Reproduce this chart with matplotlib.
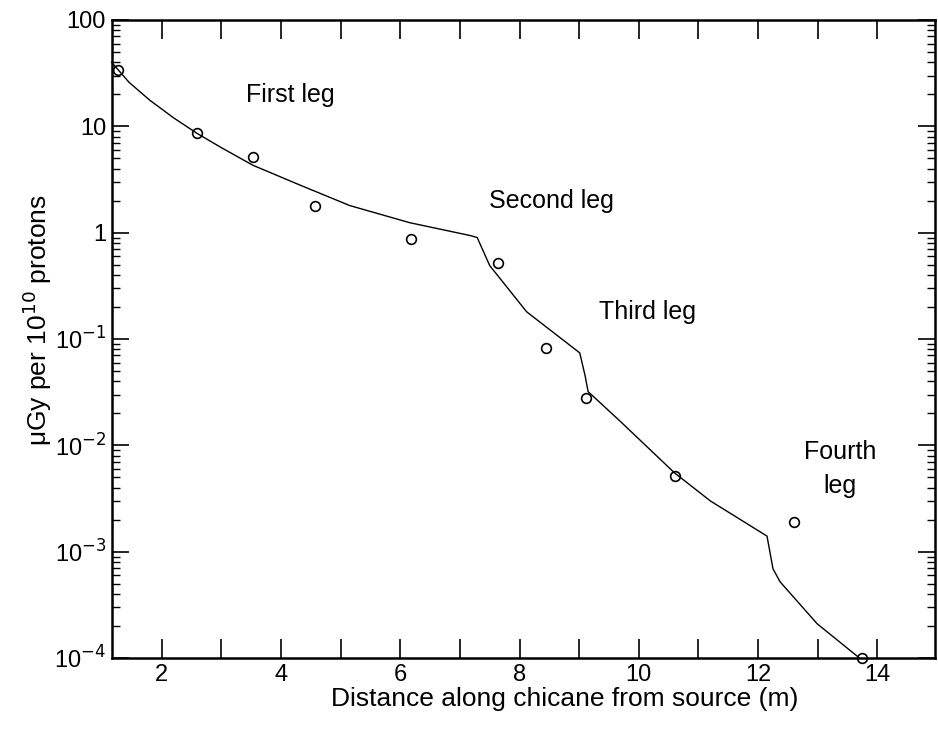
import numpy as np
import matplotlib.pyplot as plt
from matplotlib.ticker import FixedLocator, FixedFormatter, LogLocator, NullFormatter

plt.rcParams['font.family'] = ['Liberation Sans', 'DejaVu Sans']

# measured points (open circles)
meas_x = [1.26, 2.59, 3.53, 4.57, 6.18, 7.64, 8.44, 9.11, 10.6, 12.6, 13.74]
meas_y = [34, 8.6, 5.1, 1.8, 0.88, 0.52, 0.082, 0.028, 0.0051, 0.0019, 0.0001]

# calculated curve
curve_x = [1.16, 1.45, 1.8, 2.2, 2.59, 3.0, 3.53, 4.32, 5.15, 6.16, 7.17, 7.29, 7.5, 8.12, 9.01,
           9.1, 9.15, 9.68, 10.6, 11.2, 12.15, 12.25, 12.37, 12.99, 13.7]
curve_y = [40, 26, 17.6, 12, 8.6, 6.3, 4.3, 2.8, 1.8, 1.24, 0.94, 0.90, 0.49, 0.18, 0.074,
           0.045, 0.032, 0.017, 0.0055, 0.0030, 0.0014, 0.00069, 0.00052, 0.00021, 0.0001]

ytick_vals = [1e-4, 1e-3, 1e-2, 1e-1, 1, 10, 100]
ytick_labels = ['10$^{-4}$', '10$^{-3}$', '10$^{-2}$', '10$^{-1}$', '1', '10', '100']
xtick_major = [2, 4, 6, 8, 10, 12, 14]
xtick_minor = [3, 5, 7, 9, 11, 13]

legs = ['First leg', 'Second leg', 'Third leg', 'Fourth\nleg']
leg_x = [4.15, 8.54, 10.15, 13.38]
leg_y = [19.6, 2.0, 0.18, 0.006]

fig = plt.figure(figsize=(9.38, 7.29), dpi=100)
ax = fig.add_axes([0.119, 0.0974, 0.878, 0.8752])

ax.plot(curve_x, curve_y, color='black', lw=1.0, clip_on=False)
ax.plot(meas_x, meas_y, 'o', ms=7, mfc='none', mec='black', mew=1.2, clip_on=False)

for t, lx, ly in zip(legs, leg_x, leg_y):
    ax.text(lx, ly, t, ha='center', va='center', fontsize=18, linespacing=1.5)

ax.set_yscale('log')
ax.set_xlim(1.16, 14.97)
ax.set_ylim(1e-4, 100)

ax.yaxis.set_major_locator(FixedLocator(ytick_vals))
ax.yaxis.set_major_formatter(FixedFormatter(ytick_labels))
ax.yaxis.set_minor_locator(LogLocator(base=10, subs=np.arange(2, 10)))
ax.yaxis.set_minor_formatter(NullFormatter())

ax.xaxis.set_major_locator(FixedLocator(xtick_major))
ax.xaxis.set_minor_locator(FixedLocator(xtick_minor))

ax.tick_params(which='both', direction='in', top=True, right=True, labelsize=17)
ax.tick_params(which='major', axis='y', length=12, width=1.2, pad=4)
ax.tick_params(which='minor', axis='y', length=6, width=1)
ax.tick_params(which='both', axis='x', length=14, width=1.2, pad=4)

for s in ax.spines.values():
    s.set_linewidth(1.8)

ax.set_xlabel('Distance along chicane from source (m)', fontsize=19, labelpad=1, x=0.55)
ax.set_ylabel('\u03bcGy per 10$^{10}$ protons', fontsize=19, labelpad=0, y=0.53)

fig.savefig('out.png', dpi=100)
